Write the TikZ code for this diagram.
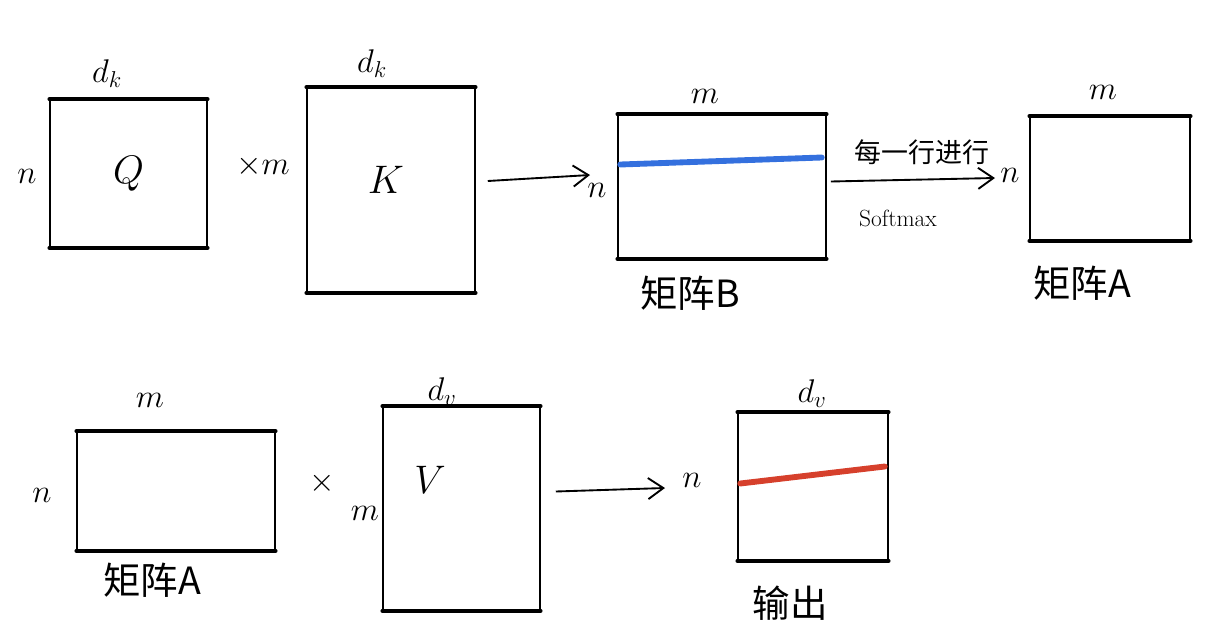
\RequirePackage{fix-cm}
\documentclass[tikz,border=0pt]{standalone}
\usepackage{fontspec}
\usepackage{amsmath}
\usepackage{tikz}
\usetikzlibrary{positioning,arrows.meta,calc}
\newfontfamily\cjk{Noto Sans CJK SC}
\definecolor{rowblue}{RGB}{52,112,222}
\definecolor{rowred}{RGB}{214,64,44}

\begin{document}
\begin{tikzpicture}[x=0.03cm,y=-0.03cm,
	mat/.style={rectangle, draw, line width=1.3pt, inner sep=0pt},
	rim/.style={line width=3pt, line cap=round},
	lbl/.style={font=\fontsize{28}{32}\selectfont},
	big/.style={font=\fontsize{34}{38}\selectfont},
	zh/.style={font=\cjk\fontsize{32}{36}\selectfont},
	arr/.style={-{Straight Barb[length=13pt,width=18pt]}, line width=1.6pt}]
	\useasboundingbox (0,0) rectangle (1230,639);
	% first row
	\node (Q) at (128.5,173.5) [mat, minimum width=4.71cm, minimum height=4.41cm] {};
	\node (K) at (391,190) [mat, minimum width=5.04cm, minimum height=6.12cm] {};
	\node (B) at (722,186.5) [mat, minimum width=6.24cm, minimum height=4.29cm] {};
	\node (A) at (1110,178.5) [mat, minimum width=4.8cm, minimum height=3.69cm] {};
	% second row
	\node (A2) at (176,491) [mat, minimum width=5.94cm, minimum height=3.54cm] {};
	\node (V) at (461.5,508.5) [mat, minimum width=4.71cm, minimum height=6.09cm] {};
	\node (O) at (813,486.5) [mat, minimum width=4.5cm, minimum height=4.41cm] {};
	\foreach \m in {Q,K,B,A,A2,V,O}
		\draw[rim] (\m.north west) -- (\m.north east)
			  (\m.south west) -- (\m.south east);
	% labels
	\node (dQ) at (107,74) [lbl] {$d_k$};
	\node (nQ) at (27,176) [lbl] {$n$};
	\node (tQ) at (Q) [big] {$Q$};
	\node (xK) at (263,166) [lbl] {$\times m$};
	\node (dK) at (372,64) [lbl] {$d_k$};
	\node (tK) at (386,180) [big] {$K$};
	\node (mB) at (705,96) [lbl] {$m$};
	\node (nB) at (597,190) [lbl] {$n$};
	\node (zB) at (690,293) [zh] {矩阵B};
	\node (sm) at (922,152) [zh, font=\cjk\fontsize{23}{26}\selectfont] {每一行进行};
	\node (sf) at (898,218) [font=\fontsize{20}{24}\selectfont] {Softmax};
	\node (nA) at (1010,175) [lbl] {$n$};
	\node (mA) at (1103,92) [lbl] {$m$};
	\node (zA) at (1082,283) [zh] {矩阵A};
	\node (mA2) at (150,400) [lbl] {$m$};
	\node (nA2) at (42,495) [lbl] {$n$};
	\node (zA2) at (152,580) [zh] {矩阵A};
	\node (xV) at (322,483) [lbl] {$\times$};
	\node (dV) at (442,392) [lbl] {$d_v$};
	\node (mV) at (365,513) [lbl] {$m$};
	\node (tV) at (430,480) [big] {$V$};
	\node (dO) at (812,394) [lbl] {$d_v$};
	\node (nO) at (692,480) [lbl] {$n$};
	\node (zO) at (790,603) [zh] {输出};
	% rows
	\draw[rowblue, line width=5pt, line cap=round]
		($(B.west)+(3,-22)$) -- ($(B.east)+(-5,-29)$);
	\draw[rowred, line width=5pt, line cap=round]
		($(O.west)+(3,-3)$) -- ($(O.east)+(-4,-20)$);
	% arrows
	\coordinate (eB) at (590,175);
	\coordinate (eA) at (995,178);
	\coordinate (eO) at (665,488);
	\draw[arr] ($(K.east)+(12,-9)$) -- (eB);
	\draw[arr] ($(B.east)+(4,-5)$) -- (eA);
	\draw[arr] ($(V.east)+(15,-17)$) -- (eO);
\end{tikzpicture}
\end{document}
